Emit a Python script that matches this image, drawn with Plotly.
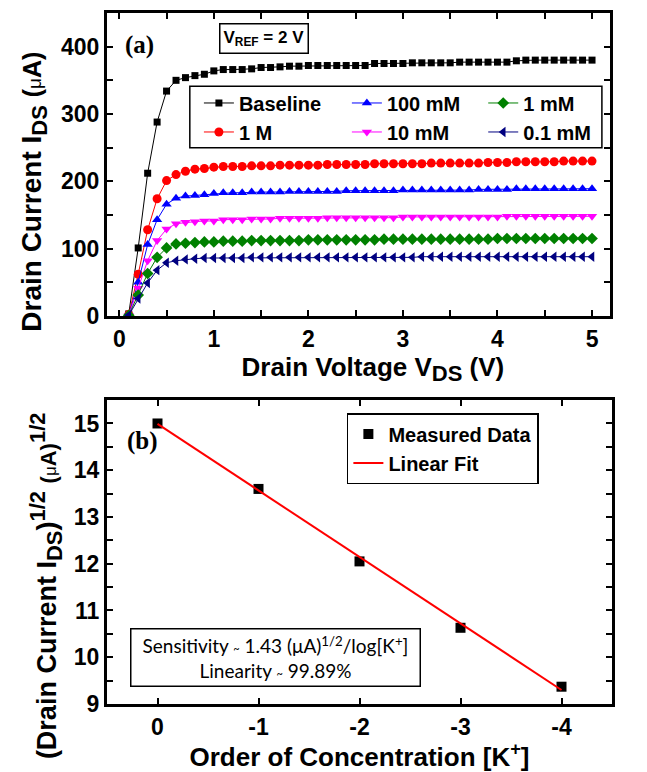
import plotly.graph_objects as go

# ---------------- data: panel (a) ----------------
vds = [0.1, 0.2, 0.3, 0.4, 0.5, 0.6, 0.7, 0.8, 0.9, 1.0,
       1.1, 1.2, 1.3, 1.4, 1.5, 1.6, 1.7, 1.8, 1.9, 2.0,
       2.1, 2.2, 2.3, 2.4, 2.5, 2.6, 2.7, 2.8, 2.9, 3.0,
       3.1, 3.2, 3.3, 3.4, 3.5, 3.6, 3.7, 3.8, 3.9, 4.0,
       4.1, 4.2, 4.3, 4.4, 4.5, 4.6, 4.7, 4.8, 4.9, 5.0]

baseline = [3, 101, 212, 288, 334, 350, 354, 357, 359, 364,
            366, 366, 366, 367, 369, 369, 370, 371, 371, 372,
            372, 372, 372, 372, 372, 372, 375, 375, 375, 375,
            376, 376, 376, 376, 376, 377, 377, 377, 377, 377,
            377, 379, 380, 380, 380, 380, 380, 380, 380, 380]
c_1M = [2, 62, 128, 174, 201, 210, 215, 218, 219, 221,
        222, 222, 222, 223, 223, 223, 224, 224, 224, 224,
        224, 225, 225, 225, 225, 225, 226, 226, 226, 226,
        226, 226, 227, 227, 227, 227, 227, 227, 228, 228,
        228, 229, 229, 229, 229, 229, 230, 230, 230, 230]
c_100mM = [1, 50, 106, 143, 166, 175, 178, 179, 180, 182,
           183, 183, 183, 184, 184, 184, 184, 185, 185, 185,
           185, 185, 185, 186, 186, 186, 186, 186, 186, 187,
           187, 187, 187, 187, 187, 187, 187, 188, 188, 188,
           188, 189, 189, 189, 189, 189, 189, 189, 189, 189]
c_10mM = [1, 41, 82, 112, 129, 137, 139, 140, 141, 141,
          143, 143, 143, 144, 144, 144, 145, 145, 145, 145,
          145, 146, 146, 146, 146, 146, 146, 146, 146, 147,
          147, 147, 147, 147, 147, 147, 147, 147, 147, 147,
          148, 148, 148, 148, 148, 148, 148, 148, 148, 148]
c_1mM = [1, 31, 63, 87, 101, 107, 108, 109, 110, 110,
         111, 111, 111, 112, 112, 112, 112, 112, 112, 113,
         113, 113, 113, 113, 113, 113, 113, 114, 114, 114,
         114, 114, 114, 114, 114, 114, 114, 114, 114, 115,
         115, 115, 115, 115, 115, 115, 115, 115, 115, 115]
c_01mM = [1, 26, 49, 68, 79, 82, 84, 85, 86, 86,
          86, 86, 86, 87, 87, 87, 87, 87, 87, 87,
          87, 87, 87, 87, 87, 87, 87, 87, 87, 87,
          87, 88, 88, 88, 88, 88, 88, 88, 88, 88,
          88, 88, 88, 88, 88, 88, 88, 88, 88, 88]

# ---------------- data: panel (b) ----------------
conc_order = [0, -1, -2, -3, -4]
sqrt_ids = [15.0, 13.6, 12.05, 10.63, 9.37]
fit_x = [0, -4]
fit_y = [14.99, 9.30]

xb_tickvals = [0, -1, -2, -3, -4]
xb_ticktext = ["0", "-1", "-2", "-3", "-4"]

FONT = "Liberation Sans, Arial, sans-serif"
SERIF = "Liberation Serif, Times New Roman, serif"

fig = go.Figure()

series = [
    ("Baseline", baseline, "#000000", "square", 7, "legend"),
    ("1 M", c_1M, "#FF0000", "circle", 9, "legend"),
    ("100 mM", c_100mM, "#0000FF", "triangle-up", 9, "legend2"),
    ("10 mM", c_10mM, "#FF00FF", "triangle-down", 9, "legend2"),
    ("1 mM", c_1mM, "#008000", "diamond", 9, "legend3"),
    ("0.1 mM", c_01mM, "#000080", "triangle-left", 9, "legend3"),
]
for name, ys, col, sym, sz, lg in series:
    fig.add_trace(go.Scatter(
        x=vds, y=ys, name=name, mode="lines+markers",
        line=dict(color=col, width=1),
        marker=dict(symbol=sym, size=sz, color=col),
        xaxis="x", yaxis="y", legend=lg))

fig.add_trace(go.Scatter(
    x=conc_order, y=sqrt_ids, name="Measured Data", mode="markers",
    marker=dict(symbol="square", size=10, color="black"),
    xaxis="x2", yaxis="y2", legend="legend4"))
fig.add_trace(go.Scatter(
    x=fit_x, y=fit_y, name="Linear Fit", mode="lines",
    line=dict(color="#FF0000", width=2),
    xaxis="x2", yaxis="y2", legend="legend4"))

axis_common = dict(
    showline=True, linecolor="black", linewidth=3, mirror="allticks",
    ticks="inside", ticklen=6, tickwidth=2, tickcolor="black",
    showgrid=False, zeroline=False,
    tickfont=dict(family=FONT, size=23, color="black", weight="bold"),
)

leg_font = dict(family=FONT, size=20, color="black", weight="bold")
leg_common = dict(orientation="v", bgcolor="rgba(0,0,0,0)", borderwidth=0,
                  font=leg_font, xanchor="left", yanchor="top",
                  tracegroupgap=0, itemwidth=30)

NB = "&nbsp;"
SUB = "<span style='font-size:22px'>{}</span>"


def mu_a(size, musize):
    return ("<span style='font-size:%dpx'>(</span>"
            "<span style='font-weight:normal;font-size:%dpx'>μ</span>"
            "<span style='font-size:%dpx'>A)</span>") % (size, musize, size)


ytitle_a = ("<b>Drain Current I<sub>" + SUB.format("DS") + "</sub> "
            + mu_a(25, 19) + NB * 7 + "</b>")
ytitle_b = ("<b>(Drain Current I<sub>" + SUB.format("DS") + "</sub>)<sup>" + SUB.format("1/2")
            + "</sup> " + mu_a(22, 17)
            + "<sup>" + SUB.format("1/2") + "</sup>" + NB * 9 + "</b>")
xtitle_a = "<b>" + NB * 4 + "Drain Voltage V<sub>" + SUB.format("DS") + "</sub> (V)</b>"

fig.update_layout(
    width=647, height=772,
    margin=dict(l=107, r=35, t=10, b=64),
    paper_bgcolor="white", plot_bgcolor="white",
    showlegend=True,
    xaxis=dict(domain=[0, 0.996], anchor="y", range=[-0.13, 5.19],
               tickvals=[0, 1, 2, 3, 4, 5],
               minor=dict(ticks="inside", dtick=0.5, tick0=0, ticklen=6, tickwidth=2, tickcolor="black"),
               title=dict(text=xtitle_a,
                          font=dict(family=FONT, size=26, color="black"), standoff=4),
               **axis_common),
    yaxis=dict(domain=[0.5616, 1.0], anchor="x", range=[0, 450],
               tickvals=[0, 100, 200, 300, 400],
               minor=dict(ticks="inside", dtick=50, tick0=0, ticklen=6, tickwidth=2, tickcolor="black"),
               title=dict(text=ytitle_a,
                          font=dict(family=FONT, size=28, color="black"), standoff=12),
               **axis_common),
    xaxis2=dict(domain=[0, 1.0], anchor="y2", range=[0.5, -4.5],
                tickvals=xb_tickvals, ticktext=xb_ticktext,
                title=dict(text="<b>Order of Concentration [K<sup>+</sup>]</b>",
                           font=dict(family=FONT, size=26, color="black"), standoff=4),
                **axis_common),
    yaxis2=dict(domain=[0, 0.4398], anchor="x2", range=[9, 15.5],
                tickvals=[9, 10, 11, 12, 13, 14, 15],
                minor=dict(ticks="inside", dtick=0.5, tick0=9, ticklen=6, tickwidth=2, tickcolor="black"),
                title=dict(text=ytitle_b,
                           font=dict(family=FONT, size=27, color="black"), standoff=10),
                **axis_common),
    legend=dict(x=0.182, y=0.898, **leg_common),
    legend2=dict(x=0.475, y=0.898, **leg_common),
    legend3=dict(x=0.745, y=0.898, **leg_common),
    legend4=dict(x=0.475, y=0.421, orientation="v", bgcolor="white",
                 bordercolor="black", borderwidth=1.5, font=leg_font,
                 xanchor="left", yanchor="top", itemwidth=30),
)

# legend frame for panel (a)
fig.add_shape(type="rect", xref="paper", yref="paper",
              x0=0.164, x1=0.980, y0=0.805, y1=0.894,
              line=dict(color="black", width=1.5), fillcolor="rgba(0,0,0,0)")

fig.add_annotation(xref="paper", yref="paper", x=0.065, y=0.953,
                   xanchor="center", yanchor="middle",
                   text="<b>(a)</b>", showarrow=False,
                   font=dict(family=SERIF, size=25, color="black"))
fig.add_annotation(xref="paper", yref="paper", x=0.071, y=0.381,
                   xanchor="center", yanchor="middle",
                   text="<b>(b)</b>", showarrow=False,
                   font=dict(family=SERIF, size=25, color="black"))
fig.add_annotation(xref="paper", yref="paper", x=0.31, y=0.963,
                   xanchor="center", yanchor="middle",
                   text="<b>V<sub>REF</sub> = 2 V</b>", showarrow=False,
                   font=dict(family=FONT, size=17, color="black"),
                   bordercolor="black", borderwidth=1.5, borderpad=3, bgcolor="white")
fig.add_annotation(xref="paper", yref="paper", x=0.333, y=0.067,
                   xanchor="center", yanchor="middle",
                   text=("Sensitivity <span style='font-size:11px'>~</span> 1.43 (μA)<sup>1/2</sup>/log[K<sup>+</sup>]"
                         "<br>Linearity <span style='font-size:11px'>~</span> 99.89%"),
                   showarrow=False, align="center",
                   font=dict(family="Lato, Carlito, sans-serif", size=19, color="black"),
                   bordercolor="black", borderwidth=1.5, borderpad=3, bgcolor="white",
                   width=282)

fig.write_html("out.html")
